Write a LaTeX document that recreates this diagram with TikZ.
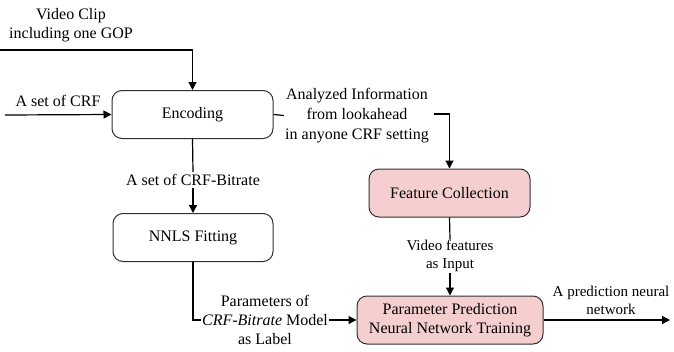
\documentclass[tikz,border=0pt]{standalone}
\usepackage{fontspec}
\setmainfont{Liberation Serif}
\usetikzlibrary{arrows.meta}
\definecolor{boxpink}{HTML}{F5CECF}
\definecolor{edge}{HTML}{303030}
\begin{document}
\begin{tikzpicture}[x=1pt,y=-1pt,
  font=\fontsize{16}{19}\selectfont,
  proc/.style={draw=edge,line width=1pt,rounded corners=10pt,minimum width=#1,minimum height=48pt,inner sep=0pt,align=center},
  pinkproc/.style={proc=#1,fill=boxpink},
  lbl/.style={align=center,inner sep=2pt},
  small/.style={lbl,font=\fontsize{15}{18}\selectfont},
  conn/.style={draw=black,line width=1.2pt},
  arr/.style={conn,-{Triangle[length=8pt,width=8pt]}}]
\useasboundingbox (0,0) rectangle (674,351);
% boxes
\node[proc=161pt] (enc) at (192.5,114.5) {Encoding};
\node[proc=160pt] (nnls) at (193,237.5) {NNLS Fitting};
\node[pinkproc=161pt] (fc) at (449.5,193) {Feature Collection};
\node[pinkproc=186pt] (pp) at (450,320) {Parameter Prediction\\Neural Network Training};
% labels
\node[lbl] (vc) at (71,25) {Video Clip\\including one GOP};
\node[lbl] (crf) at (58,101) {A set of CRF};
\node[lbl,inner sep=1pt,font=\fontsize{16}{20}\selectfont] (ana) at (357,115.5) {Analyzed Information\\from lookahead\\in anyone CRF setting};
\node[lbl] (cb) at (193,180) {A set of CRF-Bitrate};
\node[lbl,inner sep=1pt] (par) at (265,320) {Parameters of\\\textit{CRF-Bitrate} Model\\as Label};
\node[small,inner sep=1pt] (vf) at (450,256) {Video features\\as Input};
\node[small] (out) at (611,300) {A prediction neural\\network};
% coordinates
\coordinate (vcs) at (0,50);
\coordinate (crfs) at (5,115);
\coordinate (anaend) at (434,114);
\coordinate (outend) at (670,320);
% connectors
\draw[arr] (vcs) -| (enc.north);
\draw[arr] (crfs) -- (enc.west);
\draw[conn] (enc.east) -- (ana.west);
\draw[arr] (anaend) -| (fc.north);
\draw[conn] (enc.south) -- (cb.north);
\draw[arr] (cb.south) -- (nnls.north);
\draw[conn] (nnls.south) |- (par.west);
\draw[arr] (par.east) -- (pp.west);
\draw[conn] (fc.south) -- (vf.north);
\draw[arr] (vf.south) -- (pp.north);
\draw[arr] (pp.east) -- (outend);
\end{tikzpicture}
\end{document}
